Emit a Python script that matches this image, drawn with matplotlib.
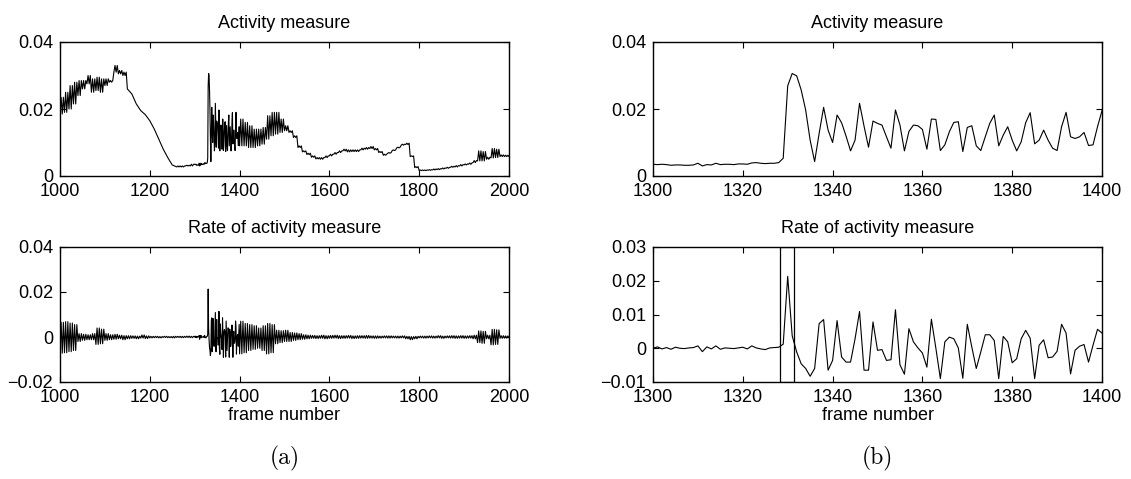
import numpy as np
import matplotlib
matplotlib.use("Agg")
import matplotlib.pyplot as plt
from matplotlib import ticker

# ---- frames 1300..1400, read frame by frame from panel (b) ----
detail_frames = np.arange(1300, 1401)

act_detail = [
    0.0035, 0.0034, 0.0035, 0.0034, 0.0032, 0.0033, 0.0033, 0.0032, 0.0032, 0.0033,
    0.0038, 0.0030, 0.0034, 0.0033, 0.0038, 0.0034, 0.0035, 0.0035, 0.0034, 0.0036,
    0.0036, 0.0035, 0.0039, 0.0040, 0.0038, 0.0037, 0.0038, 0.0038, 0.0040, 0.0053,
    0.0269, 0.0306, 0.0299, 0.0257, 0.0197, 0.0107, 0.0043, 0.0127, 0.0205, 0.0137,
    0.0100, 0.0182, 0.0159, 0.0119, 0.0075, 0.0107, 0.0217, 0.0149, 0.0086, 0.0164,
    0.0157, 0.0152, 0.0117, 0.0083, 0.0197, 0.0152, 0.0075, 0.0133, 0.0152, 0.0150,
    0.0139, 0.0080, 0.0170, 0.0169, 0.0076, 0.0093, 0.0132, 0.0160, 0.0162, 0.0073,
    0.0145, 0.0150, 0.0090, 0.0076, 0.0117, 0.0157, 0.0182, 0.0090, 0.0122, 0.0147,
    0.0107, 0.0075, 0.0102, 0.0159, 0.0189, 0.0096, 0.0107, 0.0137, 0.0107, 0.0083,
    0.0076, 0.0147, 0.0190, 0.0117, 0.0112, 0.0117, 0.0130, 0.0091, 0.0093, 0.0147,
    0.0195,
]

rate_detail = [
    0.0000, 0.0004, -0.0002, 0.0002, -0.0003, 0.0003, 0.0000, -0.0001, 0.0001, 0.0002,
    0.0007, -0.0010, 0.0004, -0.0002, 0.0007, -0.0003, 0.0001, 0.0000, -0.0001, 0.0001,
    0.0003, -0.0002, 0.0007, 0.0001, -0.0002, -0.0004, 0.0001, 0.0002, 0.0003, 0.0012,
    0.0213, 0.0037, -0.0011, -0.0046, -0.0060, -0.0083, -0.0060, 0.0073, 0.0085, -0.0065,
    -0.0036, 0.0082, -0.0026, -0.0041, -0.0041, 0.0028, 0.0109, -0.0065, -0.0065, 0.0078,
    -0.0006, -0.0004, -0.0036, -0.0034, 0.0114, -0.0049, -0.0077, 0.0058, 0.0019, 0.0001,
    -0.0014, -0.0056, 0.0086, 0.0000, -0.0090, 0.0019, 0.0033, 0.0028, 0.0001, -0.0089,
    0.0071, 0.0004, -0.0060, -0.0011, 0.0040, 0.0040, 0.0023, -0.0090, 0.0035, 0.0019,
    -0.0043, -0.0031, 0.0028, 0.0053, 0.0030, -0.0090, 0.0009, 0.0025, -0.0028, -0.0026,
    -0.0009, 0.0071, 0.0045, -0.0076, -0.0006, 0.0006, 0.0011, -0.0041, 0.0009, 0.0056,
    0.0045,
]

# ---- rest of panel (a): min / max of each 10-frame bin ----
bin_start = np.r_[np.arange(1000, 1300, 10), np.arange(1400, 2010, 10)]

act_min = [
    # 1000 - 1290
    0.0185, 0.0190, 0.0200, 0.0215, 0.0240, 0.0260, 0.0275, 0.0250, 0.0255, 0.0250,
    0.0270, 0.0280, 0.0310, 0.0305, 0.0300, 0.0260, 0.0245, 0.0215, 0.0195, 0.0183,
    0.0165, 0.0140, 0.0110, 0.0080, 0.0055, 0.0033, 0.0027, 0.0027, 0.0030, 0.0030,
    # 1400 - 2000
    0.0090, 0.0090, 0.0085, 0.0085, 0.0090, 0.0095, 0.0110, 0.0120, 0.0125, 0.0130,
    0.0135, 0.0130, 0.0115, 0.0085, 0.0072, 0.0064, 0.0056, 0.0051, 0.0050, 0.0055,
    0.0060, 0.0065, 0.0070, 0.0075, 0.0072, 0.0073, 0.0073, 0.0078, 0.0080, 0.0082,
    0.0078, 0.0070, 0.0062, 0.0068, 0.0076, 0.0084, 0.0092, 0.0094, 0.0058, 0.0025,
    0.0016, 0.0016, 0.0017, 0.0018, 0.0019, 0.0021, 0.0023, 0.0026, 0.0027, 0.0030,
    0.0033, 0.0035, 0.0040, 0.0045, 0.0045, 0.0050, 0.0054, 0.0055, 0.0058, 0.0058,
    0.0058,
]
act_max = [
    0.0235, 0.0250, 0.0270, 0.0280, 0.0285, 0.0285, 0.0300, 0.0290, 0.0295, 0.0290,
    0.0290, 0.0285, 0.0330, 0.0315, 0.0310, 0.0260, 0.0245, 0.0215, 0.0195, 0.0183,
    0.0165, 0.0140, 0.0110, 0.0080, 0.0055, 0.0033, 0.0030, 0.0030, 0.0032, 0.0035,
    0.0170, 0.0160, 0.0150, 0.0140, 0.0140, 0.0145, 0.0180, 0.0190, 0.0190, 0.0170,
    0.0150, 0.0135, 0.0120, 0.0090, 0.0075, 0.0068, 0.0060, 0.0055, 0.0055, 0.0060,
    0.0065, 0.0070, 0.0075, 0.0080, 0.0078, 0.0078, 0.0078, 0.0083, 0.0085, 0.0088,
    0.0082, 0.0073, 0.0065, 0.0070, 0.0078, 0.0086, 0.0095, 0.0098, 0.0060, 0.0028,
    0.0018, 0.0018, 0.0019, 0.0021, 0.0022, 0.0024, 0.0026, 0.0029, 0.0031, 0.0034,
    0.0036, 0.0039, 0.0046, 0.0075, 0.0073, 0.0056, 0.0082, 0.0080, 0.0063, 0.0062,
    0.0062,
]

rate_min = [
    -0.0072, -0.0070, -0.0065, -0.0060, -0.0020, -0.0015, -0.0012, -0.0012, -0.0033, -0.0030,
    -0.0015, -0.0012, -0.0010, -0.0008, -0.0012, -0.0008, -0.0006, -0.0008, -0.0005, -0.0007,
    -0.0004, -0.0003, -0.0004, -0.0002, -0.0003, -0.0004, -0.0002, -0.0003, -0.0002, -0.0003,
    -0.0075, -0.0070, -0.0060, -0.0055, -0.0050, -0.0060, -0.0075, -0.0070, -0.0030, -0.0025,
    -0.0020, -0.0020, -0.0015, -0.0012, -0.0010, -0.0008, -0.0006, -0.0007, -0.0006, -0.0008,
    -0.0006, -0.0005, -0.0007, -0.0006, -0.0005, -0.0007, -0.0006, -0.0005, -0.0006, -0.0005,
    -0.0006, -0.0005, -0.0004, -0.0005, -0.0004, -0.0005, -0.0004, -0.0008, -0.0012, -0.0008,
    -0.0004, -0.0005, -0.0004, -0.0005, -0.0004, -0.0006, -0.0004, -0.0005, -0.0006, -0.0005,
    -0.0006, -0.0005, -0.0008, -0.0025, -0.0028, -0.0008, -0.0035, -0.0033, -0.0006, -0.0005,
    -0.0004,
]
rate_max = [
    0.0065, 0.0068, 0.0062, 0.0055, 0.0015, 0.0012, 0.0010, 0.0015, 0.0040, 0.0035,
    0.0015, 0.0010, 0.0012, 0.0008, 0.0006, 0.0006, 0.0005, 0.0004, 0.0009, 0.0005,
    0.0003, 0.0003, 0.0002, 0.0003, 0.0002, 0.0003, 0.0003, 0.0003, 0.0004, 0.0003,
    0.0070, 0.0060, 0.0055, 0.0050, 0.0040, 0.0050, 0.0060, 0.0055, 0.0030, 0.0028,
    0.0030, 0.0020, 0.0018, 0.0015, 0.0010, 0.0008, 0.0007, 0.0006, 0.0008, 0.0006,
    0.0007, 0.0008, 0.0006, 0.0006, 0.0007, 0.0005, 0.0006, 0.0006, 0.0007, 0.0005,
    0.0005, 0.0004, 0.0005, 0.0005, 0.0004, 0.0004, 0.0005, 0.0003, 0.0002, 0.0003,
    0.0004, 0.0004, 0.0005, 0.0004, 0.0006, 0.0004, 0.0005, 0.0006, 0.0005, 0.0006,
    0.0005, 0.0006, 0.0008, 0.0027, 0.0025, 0.0008, 0.0034, 0.0032, 0.0006, 0.0005,
    0.0004,
]

highlight = (1328.2, 1331.3)   # box drawn on the rate plot in (b)

plt.rcParams["font.family"] = ["Liberation Sans", "DejaVu Sans"]
plt.rcParams["axes.unicode_minus"] = True


def full_series(lo, hi, det):
    # each bin's min / max drawn as a dense zigzag (a single point when min == max),
    # detailed frames put in between
    off = np.array([0, 2.5, 5, 7.5])
    x = (bin_start[:, None] + off).ravel()
    y = np.c_[lo, hi, lo, hi].ravel()
    keep = ((off == 0)[None, :] | (lo != hi)[:, None]).ravel()
    x = np.r_[x[keep], detail_frames[:-1]]
    y = np.r_[y[keep], det[:-1]]
    order = np.argsort(x, kind="stable")
    return x[order], y[order]


def fmt(v, pos):
    if abs(v) < 1e-12:
        return "0"
    return ("%g" % v).replace("-", "\u2212")


def style(ax, xlim, xticks, ylim, yticks, title):
    ax.set_xlim(*xlim)
    ax.set_ylim(*ylim)
    ax.set_xticks(xticks)
    ax.set_yticks(yticks)
    ax.yaxis.set_major_formatter(ticker.FuncFormatter(fmt))
    ax.tick_params(direction="in", top=True, right=True, length=4, width=0.8,
                   labelsize=13)
    ax.tick_params(axis="x", pad=5)
    ax.tick_params(axis="y", pad=5)
    for s in ax.spines.values():
        s.set_linewidth(1.0)
    ax.set_title(title, fontsize=13, pad=10)


fig = plt.figure(figsize=(11.31, 4.79), dpi=100)
W, H = 1131, 479
def axes_px(x0, y0, x1, y1):
    return fig.add_axes([x0 / W, 1 - y1 / H, (x1 - x0) / W, (y1 - y0) / H])

ax1 = axes_px(60, 42, 509, 176)
ax2 = axes_px(60, 247, 509, 382)
ax3 = axes_px(653, 42, 1102, 176)
ax4 = axes_px(653, 247, 1102, 382)

xa, ya = full_series(np.array(act_min), np.array(act_max), np.array(act_detail))
ax1.plot(xa, ya, color="k", lw=0.8)
xr, yr = full_series(np.array(rate_min), np.array(rate_max), np.array(rate_detail))
ax2.plot(xr, yr, color="k", lw=0.8)
ax3.plot(detail_frames, act_detail, color="k", lw=0.8)
ax4.plot(detail_frames, rate_detail, color="k", lw=0.8)
ax4.axvspan(*highlight, fill=False, edgecolor="k", lw=0.9)

left_ticks = np.arange(1000, 2001, 200)
right_ticks = np.arange(1300, 1401, 20)
style(ax1, (1000, 2000), left_ticks, (0, 0.04), [0, 0.02, 0.04], "Activity measure")
style(ax2, (1000, 2000), left_ticks, (-0.02, 0.04), [-0.02, 0, 0.02, 0.04], "Rate of activity measure")
style(ax3, (1300, 1400), right_ticks, (0, 0.04), [0, 0.02, 0.04], "Activity measure")
style(ax4, (1300, 1400), right_ticks, (-0.01, 0.03), [-0.01, 0, 0.01, 0.02, 0.03], "Rate of activity measure")

for ax in (ax2, ax4):
    ax.set_xlabel("frame number", fontsize=13, labelpad=1)

fig.text(284.5 / W, 1 - 458 / H, "(a)", family="cmr10", fontsize=17, ha="center", va="center")
fig.text(877.5 / W, 1 - 458 / H, "(b)", family="cmr10", fontsize=17, ha="center", va="center")

fig.savefig("out.png", dpi=100)
